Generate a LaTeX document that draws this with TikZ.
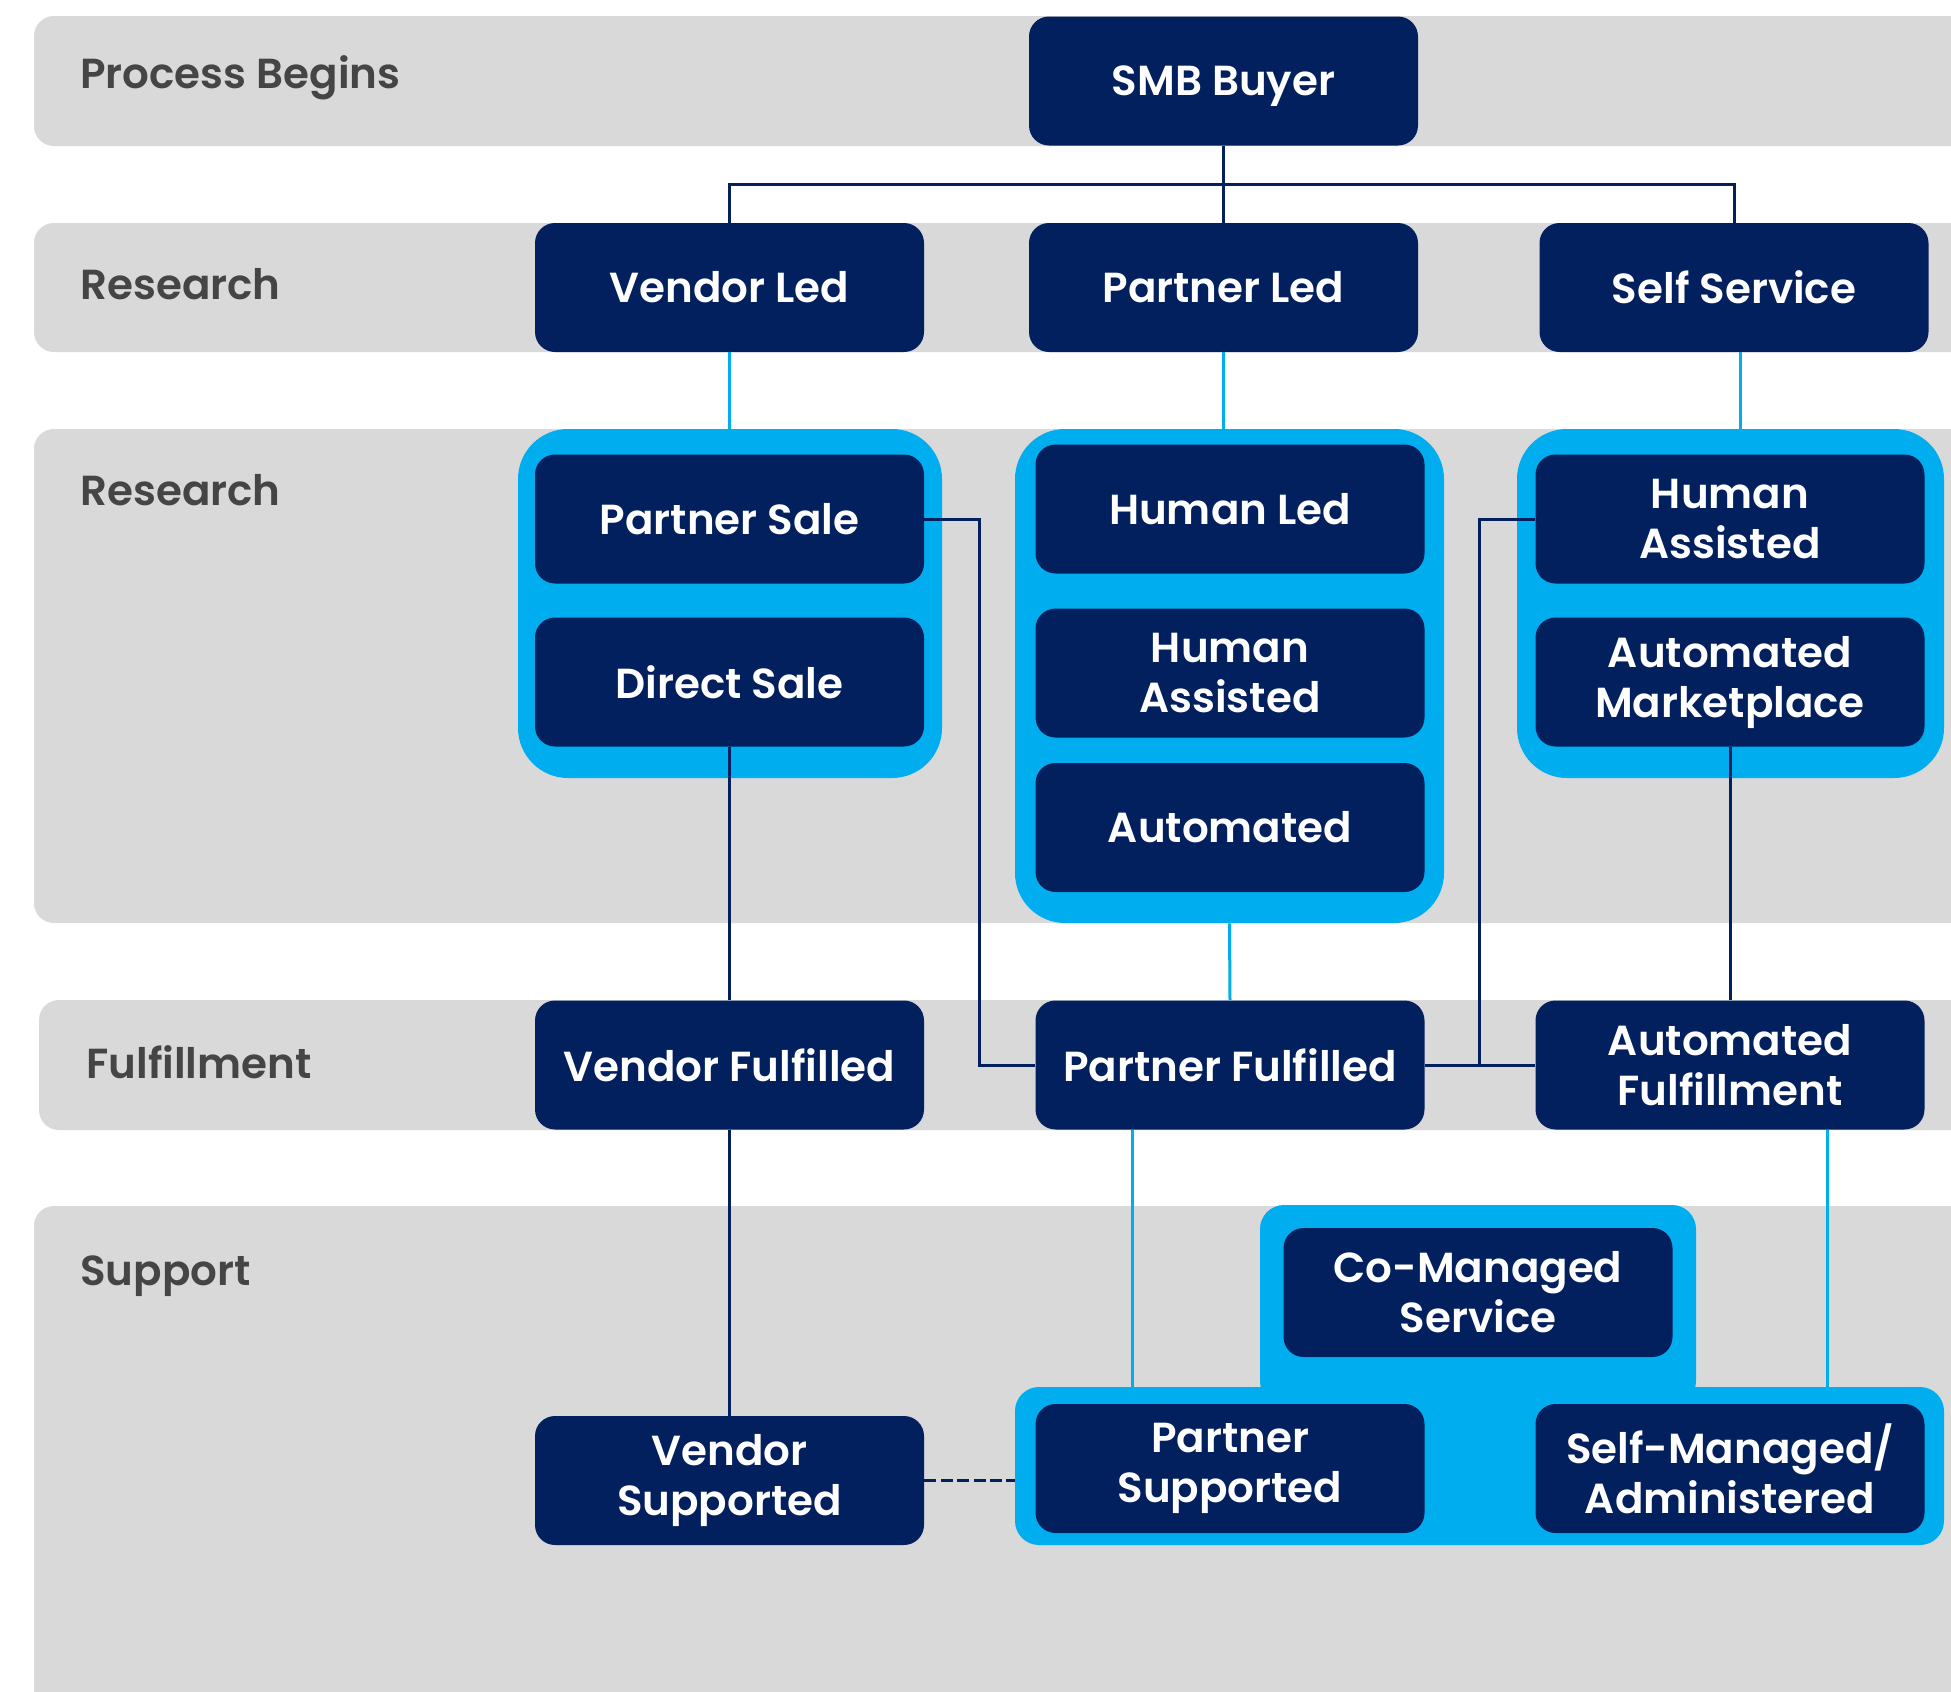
\documentclass[tikz,border=0pt]{standalone}
\usepackage{fontspec}
\setmainfont{Poppins}[UprightFont=* SemiBold, BoldFont=* Bold]
\usetikzlibrary{calc}
\definecolor{navy}{HTML}{03205E}
\definecolor{skyblue}{HTML}{00AEEF}
\definecolor{bandgrey}{HTML}{D9D9D9}
\definecolor{lanetext}{HTML}{454545}
\tikzset{
  band/.style={fill=bandgrey, rounded corners=10pt},
  lane/.style={anchor=base west, inner sep=0pt, text=lanetext, font=\fontsize{21}{25}\selectfont},
  box/.style={fill=navy, text=white, rounded corners=10pt, inner sep=0pt,
    minimum width=194.5pt, minimum height=64.5pt, align=center,
    font=\fontsize{21}{25}\selectfont},
  grp/.style={fill=skyblue, inner sep=0pt},
  dark/.style={draw=navy, line width=1.5pt},
  light/.style={draw=skyblue, line width=1.5pt},
}
\begin{document}
\begin{tikzpicture}[x=0.5pt, y=-0.5pt]
\useasboundingbox (0,0) rectangle (1951,1692);
\clip (0,0) rectangle (1951,1692);
\fill[white] (0,0) rectangle (1951,1692);

% swim lanes
\fill[band] (34,16) rectangle (2010,146);
\fill[band] (34,223) rectangle (2010,352);
\fill[band] (34,429) rectangle (2010,923);
\fill[band] (39,1000) rectangle (2010,1130);
\fill[band] (34,1206) rectangle (2010,1760);

\node[lane] (l1) at (80,88) {Process Begins};
\node[lane] (l2) at (80,299) {Research};
\node[lane] (l3) at (80,505) {Research};
\node[lane] (l4) at (86,1078) {Fulfillment};
\node[lane] (l5) at (80,1285) {Support};

% grouped option panels
\node[grp, rounded corners=25pt, minimum width=212pt, minimum height=174.5pt] (g1) at (730,603.5) {};
\node[grp, rounded corners=25pt, minimum width=214.5pt, minimum height=247pt] (g2) at (1229.5,676) {};
\node[grp, rounded corners=25pt, minimum width=213.5pt, minimum height=174.5pt] (g3) at (1730.5,603.5) {};
\node[grp, rounded corners=12pt, minimum width=218pt, minimum height=100pt] (g5) at (1478,1305) {};
\node[grp, rounded corners=12pt, minimum width=464.5pt, minimum height=79pt] (g4) at (1479.5,1466) {};

% process begins
\node[box, text depth=0pt] (smb) at (1223.5,81) {SMB Buyer};

% research channels
\node[box] (vl) at (729.5,287.5) {Vendor Led};
\node[box] (pl) at (1223.5,287.5) {Partner Led};
\node[box] (ss) at (1734,287.5) {Self Service};

% research options
\node[box] (psale) at (729.5,519) {Partner Sale};
\node[box] (dsale) at (729.5,682) {Direct Sale};
\node[box] (hled) at (1230,509) {Human Led};
\node[box] (hass) at (1230,673) {Human\\Assisted};
\node[box] (auto) at (1230,827.5) {Automated};
\node[box] (hass3) at (1730,519) {Human\\Assisted};
\node[box] (amkt) at (1730,682) {Automated\\Marketplace};

% fulfillment
\node[box] (vf) at (729.5,1065) {Vendor Fulfilled};
\node[box] (pf) at (1230,1065) {Partner Fulfilled};
\node[box] (af) at (1730,1065) {Automated\\Fulfillment};

% support
\node[box] (cms) at (1478,1292.5) {Co-Managed\\Service};
\node[box] (psup) at (1230,1468.5) {Partner\\Supported};
\node[box] (smad) at (1730,1468.5) {Self-Managed/\\Administered};
\node[box] (vsup) at (729.5,1480.5) {Vendor\\Supported};

% connectors from the buyer
\coordinate (jn) at (1223.5,184);
\draw[dark] (smb.south) -- (jn);
\draw[dark] (vl.north) |- (jn) -| (ss.north);
\draw[dark] (pl.north) -- (jn);

% research channel to option panel
\draw[light] (vl.south) -- (vl.south |- g1.north);
\draw[light] (pl.south) -- (pl.south |- g2.north);
\draw[light] ($(ss.south)+(3pt,0)$) -- ($(ss.south |- g3.north)+(3pt,0)$);

% options to fulfillment
\coordinate (c1) at (979,1065);
\coordinate (c2) at (1479,1065);
\draw[dark] (dsale.south) -- (vf.north);
\draw[dark] (psale.east) -| (c1) -- (pf.west);
\draw[dark] (hass3.west) -| (c2);
\draw[dark] (pf.east) -- (af.west);
\draw[light] (g2.south) -- (pf.north);
\draw[dark] (amkt.south) -- (af.north);

% fulfillment to support
\draw[dark] (vf.south) -- (vsup.north);
\coordinate (p1) at ($(pf.south west)!0.25!(pf.south east)$);
\coordinate (p2) at ($(af.south west)!0.75!(af.south east)$);
\draw[light] (p1) -- (p1 |- g4.north);
\draw[light] (p2) -- (p2 |- g4.north);
\draw[draw=navy, line width=1.7pt, dash pattern=on 6pt off 2.2pt] (vsup.east) -- (vsup.east -| g4.west);
\end{tikzpicture}
\end{document}
